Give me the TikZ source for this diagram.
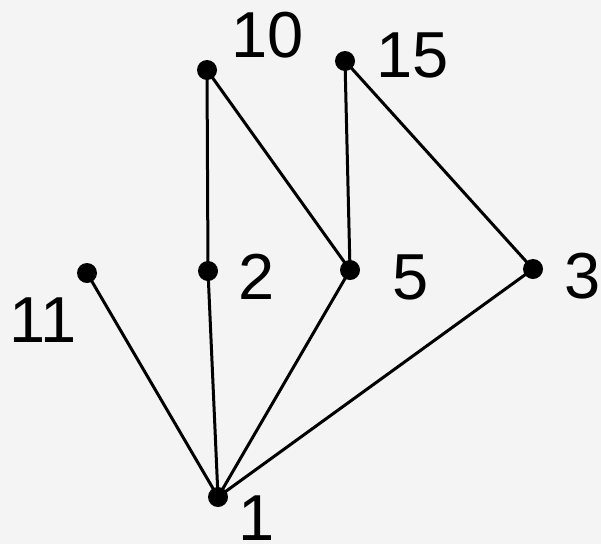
\documentclass[tikz,border=0pt]{standalone}
\usepackage{fontspec}
\setmainfont{Liberation Sans}
\usetikzlibrary{positioning}
\definecolor{hasseBack}{HTML}{F4F4F4}
\definecolor{hasseInk}{HTML}{000000}

\begin{document}
\begin{tikzpicture}[x=1pt,y=-1pt,line cap=round,line join=round]
\path[fill=hasseBack] (0,0) rectangle (601,544);
\useasboundingbox (0,0) rectangle (601,544);
\tikzset{dot/.style={circle,fill=hasseInk,inner sep=0pt,minimum size=20pt},edge/.style={draw=hasseInk,line width=3pt},num/.style={text=hasseInk,inner sep=0pt,font=\fontsize{65}{67}\selectfont}}
% elements of the poset
\node[dot] (n10) at (207,70) {}; \node[dot] (n15) at (345,61) {};
\node[dot] (n11) at (87,273) {}; \node[dot] (n2) at (208,271) {};
\node[dot] (n5) at (350,270) {}; \node[dot] (n3) at (533,269) {};
\node[dot] (n1) at (218,497) {};
% labels
\node[num] (l10) at (268,35) {10}; \node[num] (l15) at (413,55) {15};
\node[num] (l11) at (43,320) {11}; \node[num] (l2) at (257,277) {2};
\node[num] (l5) at (411,277) {5}; \node[num] (l3) at (583,276) {3};
\node[num] (l1) at (257,518) {1};
% covering relations
\draw[edge] (n10.center) -- (n2.center); \draw[edge] (n10.center) -- (n5.center);
\draw[edge] (n15.center) -- (n5.center); \draw[edge] (n15.center) -- (n3.center);
\draw[edge] (n11.center) -- (n1.center); \draw[edge] (n2.center) -- (n1.center);
\draw[edge] (n5.center) -- (n1.center); \draw[edge] (n3.center) -- (n1.center);
\end{tikzpicture}
\end{document}
